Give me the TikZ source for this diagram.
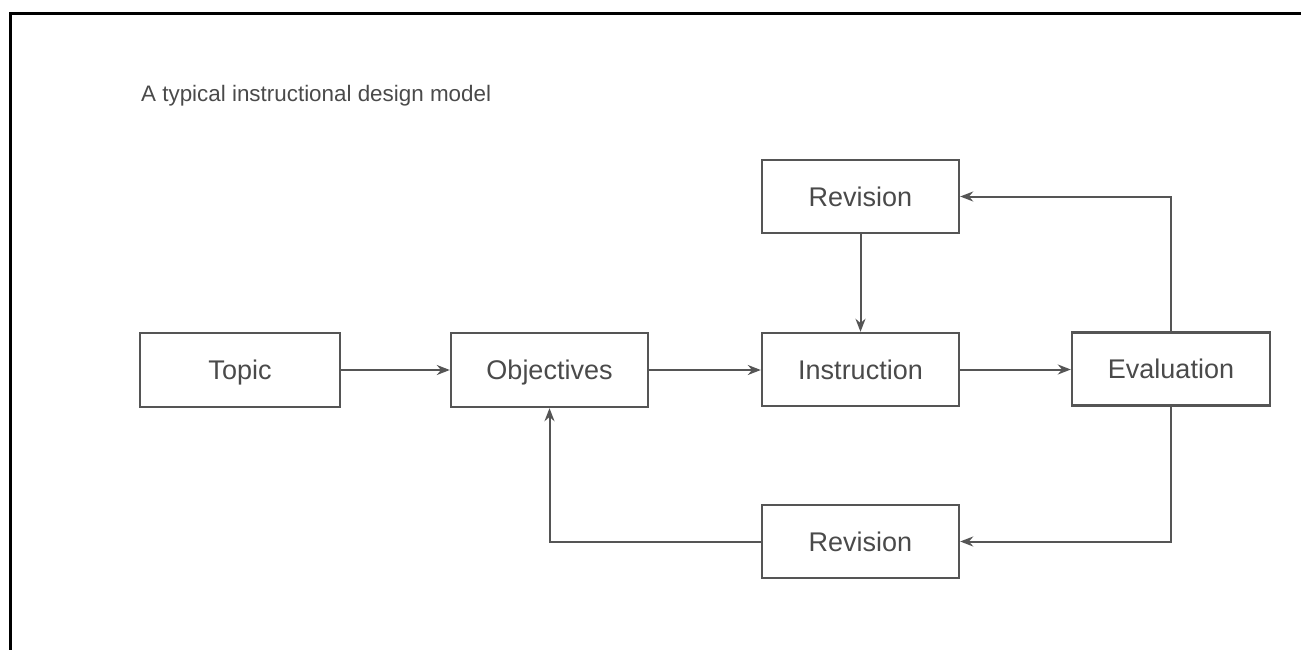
\documentclass[tikz,border=0pt]{standalone}
\usepackage{fontspec}
\setmainfont{Liberation Sans}
\usetikzlibrary{arrows.meta}
\definecolor{ink}{HTML}{555555}
\definecolor{txt}{HTML}{4A4A4A}
\tikzset{
  box/.style={draw=ink, line width=2.4pt, minimum width=197pt, minimum height=73pt,
    inner sep=0pt, text=txt, text height=22pt, text depth=2.6pt,
    font=\fontsize{27pt}{30pt}\selectfont},
  conn/.style={draw=ink, line width=2pt, -{Stealth[length=13pt,width=10pt]}},
}
\begin{document}
\begin{tikzpicture}[x=1pt,y=-1pt]
\useasboundingbox (0,0) rectangle (1301,650);
\draw[line width=3pt] (10,650) -- (10,14) -- (1301,14);
\node[anchor=base west, inner sep=0pt, text=txt, font=\fontsize{22.4pt}{26pt}\selectfont] (title) at (141,102) {A typical instructional design model};
\node[box, minimum width=200pt, minimum height=74pt] (topic) at (240,370) {Topic};
\node[box, minimum height=74pt] (obj) at (549.5,370) {Objectives};
\node[box] (ins) at (860.5,369.5) {Instruction};
\node[box, minimum width=198pt] (eva) at (1171,369) {Evaluation};
\node[box] (rev1) at (860.5,196.5) {Revision};
\node[box] (rev2) at (860.5,541.5) {Revision};
\draw[conn] (topic.east) -- (obj.west);
\draw[conn] (obj.east) -- (obj.east -| ins.west);
\draw[conn] (ins.east) -- (ins.east -| eva.west);
\draw[conn] (rev1.south) -- (ins.north);
\draw[conn] (eva.north) |- (rev1.east);
\draw[conn] (eva.south) |- (rev2.east);
\draw[conn] (rev2.west) -| (obj.south);
\end{tikzpicture}
\end{document}
